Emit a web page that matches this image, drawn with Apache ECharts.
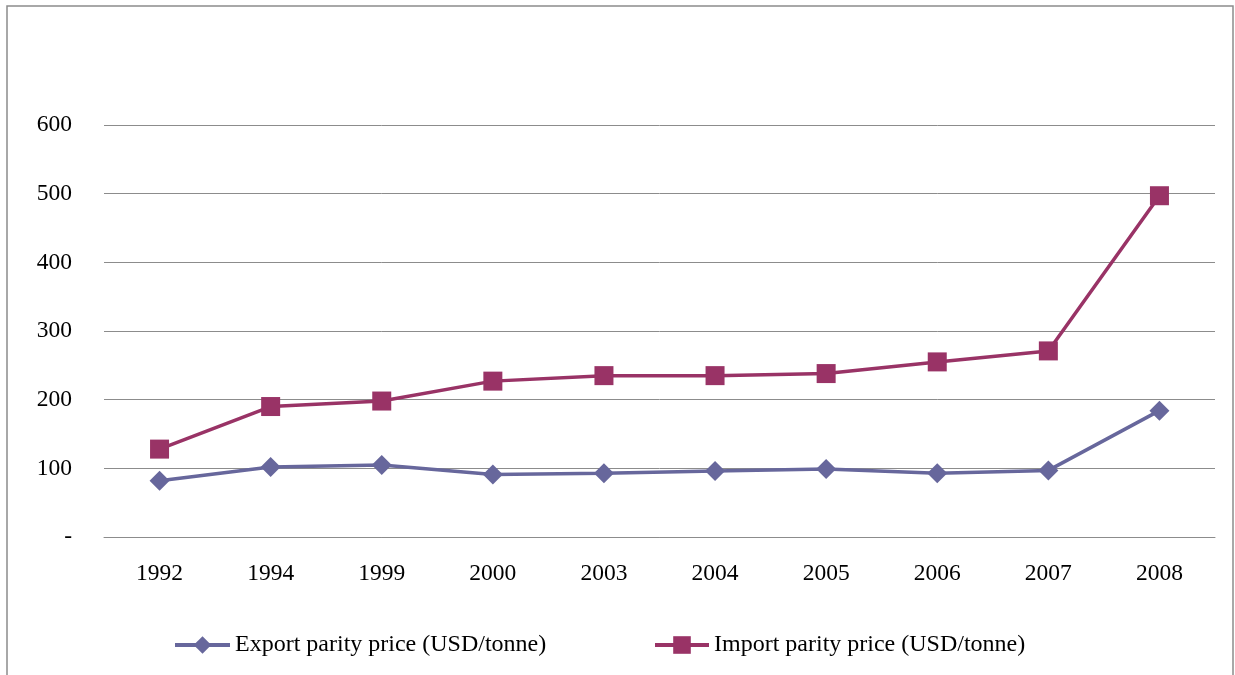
<!DOCTYPE html>
<html>
<head>
<meta charset="utf-8">
<script src="https://cdn.jsdelivr.net/npm/echarts@6/dist/echarts.min.js"></script>
<style>
html,body{margin:0;padding:0;background:#fff;}
#chart{width:1235px;height:675px;}
</style>
</head>
<body>
<div id="chart"></div>
<script>
const categories = ['1992','1994','1999','2000','2003','2004','2005','2006','2007','2008'];
const exportPrice = [82, 102, 105, 91, 93, 96, 99, 93, 97, 184];
const importPrice = [128, 190, 198, 227, 235, 235, 238, 255, 271, 497];
const yTicks = [0, 100, 200, 300, 400, 500, 600];

const chart = echarts.init(document.getElementById('chart'), null, {renderer: 'canvas'});
const font = 'Liberation Serif, Times New Roman, serif';
chart.setOption({
  animation: false,
  backgroundColor: '#fff',
  graphic: [{
    type: 'rect',
    shape: {x: 7, y: 6, width: 1226, height: 700},
    style: {fill: 'none', stroke: '#8c8c8c', lineWidth: 1.5},
    silent: true
  }],
  grid: {left: 104, right: 20, top: 125, bottom: 138},
  legend: [{
    data: ['Export parity price (USD/tonne)'],
    left: 173, top: 633, padding: 0,
    itemWidth: 55, itemHeight: 22,
    lineStyle: {width: 4},
    textStyle: {fontFamily: font, fontSize: 24, color: '#000'}
  }, {
    data: ['Import parity price (USD/tonne)'],
    left: 653, top: 633, padding: 0,
    itemWidth: 54, itemHeight: 22,
    lineStyle: {width: 4},
    textStyle: {fontFamily: font, fontSize: 24, color: '#000'}
  }],
  xAxis: {
    type: 'category',
    data: categories,
    boundaryGap: true,
    axisLine: {lineStyle: {color: '#8c8c8c', width: 1}},
    axisTick: {show: false},
    axisLabel: {fontFamily: font, fontSize: 23.5, color: '#000', margin: 25}
  },
  yAxis: {
    type: 'value',
    min: yTicks[0], max: yTicks[yTicks.length - 1], interval: 100,
    axisLine: {show: false},
    axisTick: {show: false},
    splitLine: {lineStyle: {color: '#8c8c8c', width: 1}},
    axisLabel: {
      fontFamily: font, fontSize: 23.5, color: '#000', margin: 32,
      formatter: v => v === 0 ? '-' : String(v)
    }
  },
  series: [{
    name: 'Export parity price (USD/tonne)',
    type: 'line',
    data: exportPrice,
    symbol: 'diamond', symbolSize: 20,
    lineStyle: {color: '#67679c', width: 3.5},
    itemStyle: {color: '#67679c'}
  }, {
    name: 'Import parity price (USD/tonne)',
    type: 'line',
    data: importPrice,
    symbol: 'rect', symbolSize: 19,
    lineStyle: {color: '#993366', width: 3.5},
    itemStyle: {color: '#993366'}
  }]
});
</script>
</body>
</html>
